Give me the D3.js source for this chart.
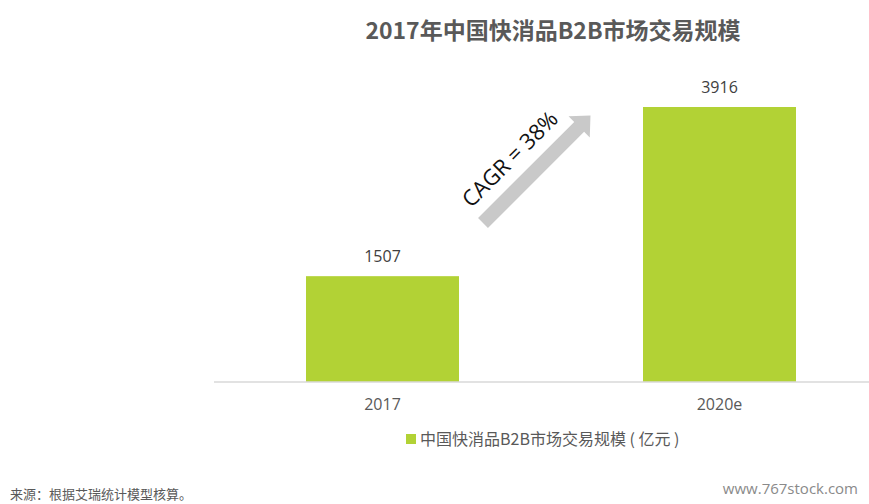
<!DOCTYPE html>
<html>
<head>
<meta charset="utf-8">
<script src="https://cdn.jsdelivr.net/npm/d3@7"></script>
<style>
  html, body { margin: 0; padding: 0; background: #fff; }
  svg { display: block; }
</style>
</head>
<body>
<svg id="chart" width="869" height="504"></svg>
<script>
// Market size of China's FMCG B2B trade (100 million yuan)
const categories = ["2017", "2020e"];
const values = [1507, 3916];
const seriesName = "中国快消品B2B市场交易规模 ( 亿元 )";
const titleText = "2017年中国快消品B2B市场交易规模";
const growthLabel = "CAGR = 38%";
const sourceText = "来源：根据艾瑞统计模型核算。";
const siteText = "www.767stock.com";

const svg = d3.select("#chart");
const W = 869, H = 504;
const barColor = "#b2d235";
const textColor = "#595959";
const cjk = "'Noto Sans CJK SC', 'Noto Sans', sans-serif";
const latin = "'Open Sans', 'Noto Sans', sans-serif";

const baseY = 382;
const x = d3.scaleBand().domain(categories).range([214, 888]).paddingInner(0.546).paddingOuter(0.273);
const y = d3.scaleLinear().domain([0, 3916]).range([baseY, 107]);

// title
svg.append("text")
  .attr("x", 553).attr("y", 39)
  .attr("text-anchor", "middle")
  .attr("font-family", cjk).attr("font-weight", 700)
  .attr("font-size", 23).attr("fill", textColor)
  .text(titleText);

// bars
svg.selectAll("rect.bar").data(values).join("rect")
  .attr("class", "bar")
  .attr("x", (d, i) => x(categories[i]))
  .attr("width", x.bandwidth())
  .attr("y", d => y(d))
  .attr("height", d => baseY - y(d))
  .attr("fill", barColor);

// value labels
svg.selectAll("text.val").data(values).join("text")
  .attr("class", "val")
  .attr("x", (d, i) => x(categories[i]) + x.bandwidth() / 2)
  .attr("y", d => y(d) - 14)
  .attr("text-anchor", "middle")
  .attr("font-family", latin).attr("font-size", 16)
  .attr("fill", "#404040")
  .text(d => d);

// x axis
const axis = svg.append("g").attr("transform", `translate(0,${baseY})`)
  .call(d3.axisBottom(x).tickSize(0).tickPadding(17));
axis.select(".domain").attr("stroke", "#d9d9d9").attr("stroke-width", 1.5)
  .attr("d", `M214,0H869`);
axis.selectAll("text")
  .attr("font-family", latin).attr("font-size", 16).attr("fill", textColor);

// growth arrow
const arrow = svg.append("g").attr("transform", "translate(483,223) rotate(-45)");
const L = 152, sw = 7, hw = 15, hl = 16;
arrow.append("path")
  .attr("d", `M0,${-sw}L${L - hl},${-sw}L${L - hl},${-hw}L${L},0L${L - hl},${hw}L${L - hl},${sw}L0,${sw}Z`)
  .attr("fill", "#c9c9c9");

svg.append("text")
  .attr("transform", "translate(509,158) rotate(-45)")
  .attr("text-anchor", "middle")
  .attr("dominant-baseline", "central")
  .attr("font-family", latin).attr("font-size", 22)
  .attr("fill", "#111")
  .text(growthLabel);

// legend
const lg = svg.append("g").attr("transform", "translate(406,434)");
lg.append("rect").attr("width", 10).attr("height", 10).attr("fill", barColor);
lg.append("text").attr("x", 14).attr("y", 11)
  .attr("font-family", cjk).attr("font-size", 16).attr("fill", textColor)
  .text(seriesName);

// footer
svg.append("text")
  .attr("x", 10).attr("y", 499)
  .attr("font-family", cjk).attr("font-size", 13).attr("fill", textColor)
  .text(sourceText);
svg.append("text")
  .attr("x", 858).attr("y", 494)
  .attr("text-anchor", "end")
  .attr("font-family", latin).attr("font-size", 15).attr("fill", "#8a8a8a")
  .text(siteText);
</script>
</body>
</html>
